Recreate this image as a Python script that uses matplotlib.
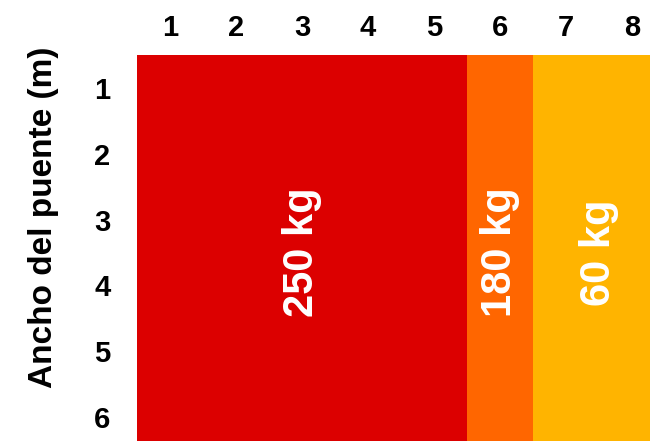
import matplotlib
matplotlib.use("Agg")
import matplotlib.pyplot as plt
from matplotlib.colors import ListedColormap
import numpy as np

# columnas (largo) y filas (ancho del puente)
cols = [1, 2, 3, 4, 5, 6, 7, 8]
rows = [1, 2, 3, 4, 5, 6]
carga = [250, 250, 250, 250, 250, 180, 60, 60]   # kg por columna
niveles = [250, 180, 60]
colores = ["#DC0000", "#FF6600", "#FFB400"]
etiquetas = ["250 kg", "180 kg", "60 kg"]

plt.rcParams['font.family'] = ['Liberation Sans', 'DejaVu Sans']

fig = plt.figure(figsize=(6.5, 4.41), dpi=100)
ax = fig.add_axes([137/650, (441 - 55 - 395)/441, 528/650, 395/441])

idx = np.array([[niveles.index(c) for c in carga] for r in rows])
xe = np.arange(len(cols) + 1) + 0.5
ye = np.arange(len(rows) + 1) + 0.5
ax.pcolormesh(xe, ye, idx, cmap=ListedColormap(colores), vmin=-0.5, vmax=2.5)
ax.set_xlim(0.5, 8.5)
ax.set_ylim(6.5, 0.5)

# texto en el centro de cada bloque
for i, n in enumerate(niveles):
    xs = [c for c, v in zip(cols, carga) if v == n]
    ax.text(np.mean(xs), np.mean(rows), etiquetas[i], rotation=90,
            ha="center", va="center", color="white", fontsize=30,
            fontweight="bold")

ax.xaxis.tick_top()
ax.set_xticks(cols)
ax.set_yticks(rows)
ax.tick_params(length=0, labelsize=21)
ax.tick_params(axis="x", pad=9)
ax.tick_params(axis="y", pad=19)
for t in ax.get_xticklabels() + ax.get_yticklabels():
    t.set_fontweight("bold")
for s in ax.spines.values():
    s.set_visible(False)
ax.set_ylabel("Ancho del puente (m)", fontsize=24, fontweight="bold")
ax.yaxis.set_label_coords(-0.148, 0.59)

fig.savefig("out.png", dpi=100)
